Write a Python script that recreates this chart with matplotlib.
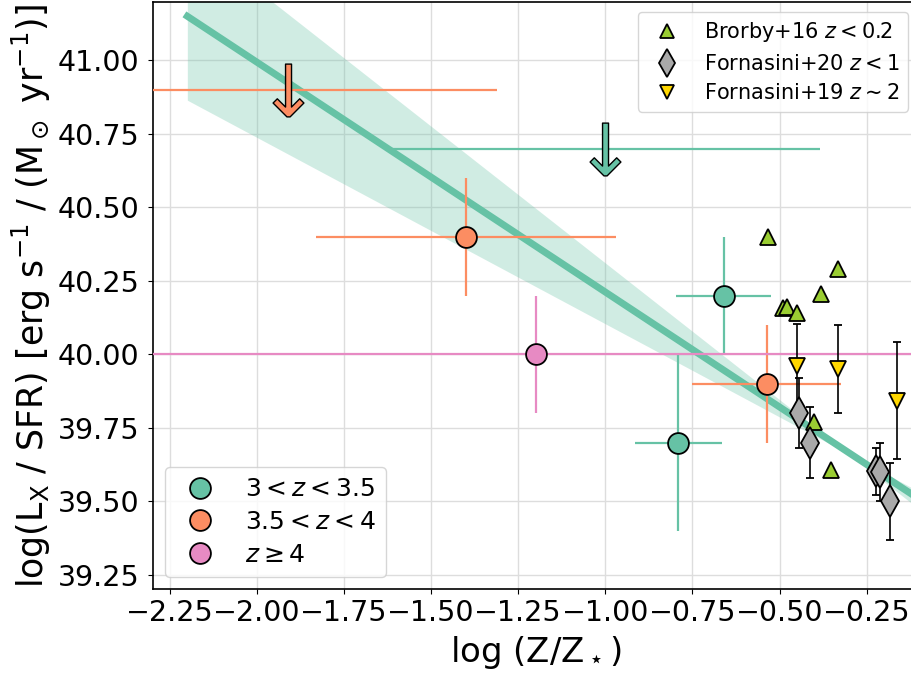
import numpy as np
import matplotlib
matplotlib.use("Agg")
import matplotlib.pyplot as plt

# ---------------- data ----------------
# this work: detections
g_x = [-0.66, -0.79]            # 3 < z < 3.5
g_y = [40.2, 39.7]
g_xerr = [0.136, 0.125]
g_yerr = [0.2, 0.3]

o_x = [-1.40, -0.537]           # 3.5 < z < 4
o_y = [40.4, 39.9]
o_xerr = [0.43, 0.214]
o_yerr = [0.2, 0.2]

p_x = [-1.20]                   # z >= 4
p_y = [40.0]
p_xerr = [1.3]
p_yerr = [0.2]

# upper limits
gul_x = [-1.00]
gul_y = [40.70]
gul_xerr = [0.615]
oul_x = [-1.91]
oul_y = [40.90]
oul_xerr = [0.60]

# literature
b16_x = [-0.532, -0.332, -0.382, -0.491, -0.479, -0.451, -0.400, -0.353]
b16_y = [40.40, 40.292, 40.207, 40.157, 40.162, 40.142, 39.769, 39.606]

f20_x = [-0.443, -0.413, -0.223, -0.212, -0.183]
f20_y = [39.80, 39.70, 39.603, 39.60, 39.50]
f20_yerr = [0.12, 0.12, 0.08, 0.10, 0.13]

f19_x = [-0.451, -0.331, -0.164]
f19_y = [39.96, 39.95, 39.843]
f19_yerr = [0.145, 0.15, 0.2]

# fit and its band (two bounding lines)
fit_x = [-2.2, -0.1]
fit_intercept = 39.43
fit_slope = -0.782
band_a = (39.381, -0.93)    # intercept, slope
band_b = (39.470, -0.634)

# ---------------- style ----------------
c_g = "#66c2a5"
c_o = "#fc8d62"
c_p = "#e78ac3"

fig = plt.figure(figsize=(9.11, 6.74), dpi=100)
ax = fig.add_axes([0.1674, 0.1254, 0.8412, 0.8721])

ax.set_xlim(-2.3, -0.1)
ax.set_ylim(39.2, 41.2)

ax.grid(True, color="#dddddd", lw=1.0, zorder=0)
ax.set_axisbelow(True)

xf = np.linspace(fit_x[0], fit_x[1], 200)
ya = band_a[0] + band_a[1] * xf
yb = band_b[0] + band_b[1] * xf
ax.fill_between(xf, np.minimum(ya, yb), np.maximum(ya, yb), color=c_g,
                alpha=0.3, lw=0, zorder=1)
ax.plot(xf, fit_intercept + fit_slope * xf, color=c_g, lw=5, zorder=2)

ekw = dict(ls="none", elinewidth=1.6, zorder=3)
ax.errorbar(g_x, g_y, xerr=g_xerr, yerr=g_yerr, marker="o", ms=15,
            mfc=c_g, mec="k", mew=1.3, ecolor=c_g, **ekw)
ax.errorbar(o_x, o_y, xerr=o_xerr, yerr=o_yerr, marker="o", ms=15,
            mfc=c_o, mec="k", mew=1.3, ecolor=c_o, **ekw)
ax.errorbar(p_x, p_y, xerr=p_xerr, yerr=p_yerr, marker="o", ms=15,
            mfc=c_p, mec="k", mew=1.3, ecolor=c_p, **ekw)

ax.errorbar(gul_x, gul_y, xerr=gul_xerr, marker=r"$\downarrow$", ms=38,
            mfc=c_g, mec="k", mew=1.0, ecolor=c_g, **ekw)
ax.errorbar(oul_x, oul_y, xerr=oul_xerr, marker=r"$\downarrow$", ms=38,
            mfc=c_o, mec="k", mew=1.0, ecolor=c_o, **ekw)

# literature
ax.errorbar(f19_x, f19_y, yerr=f19_yerr, marker="v", ls="none", ms=11,
            mfc="gold", mec="k", mew=1.3, ecolor="k", elinewidth=1.2,
            capsize=3, zorder=4)
ax.errorbar(f20_x, f20_y, yerr=f20_yerr, marker="d", ls="none", ms=16,
            mfc="darkgray", mec="k", mew=1.3, ecolor="k", elinewidth=1.2,
            capsize=3, zorder=4)
ax.plot(b16_x, b16_y, "^", ms=11, mfc="yellowgreen", mec="k", mew=1.3,
        ls="none", zorder=4)

# legends
h_b = ax.plot([], [], "^", ms=10, mfc="yellowgreen", mec="k", mew=1.3, ls="none")[0]
h_f20 = ax.plot([], [], "d", ms=14, mfc="darkgray", mec="k", mew=1.3, ls="none")[0]
h_f19 = ax.plot([], [], "v", ms=10, mfc="gold", mec="k", mew=1.3, ls="none")[0]
leg1 = ax.legend([h_b, h_f20, h_f19],
                 ["Brorby+16 $z < 0.2$", "Fornasini+20 $z < 1$",
                  "Fornasini+19 $z \\sim 2$"],
                 loc="upper right", fontsize=15, framealpha=0.8,
                 labelspacing=0.45)
ax.add_artist(leg1)

h_g = ax.plot([], [], "o", ms=15, mfc=c_g, mec="k", mew=1.3, ls="none")[0]
h_o = ax.plot([], [], "o", ms=15, mfc=c_o, mec="k", mew=1.3, ls="none")[0]
h_p = ax.plot([], [], "o", ms=15, mfc=c_p, mec="k", mew=1.3, ls="none")[0]
ax.legend([h_g, h_o, h_p], ["$3 < z < 3.5$", "$3.5 < z < 4$", "$z \\geq 4$"],
          loc="lower left", fontsize=18, framealpha=0.8, labelspacing=0.35)

ax.set_xticks([-2.25, -2.0, -1.75, -1.5, -1.25, -1.0, -0.75, -0.5, -0.25])
ax.set_yticks([39.25, 39.5, 39.75, 40.0, 40.25, 40.5, 40.75, 41.0])
ax.tick_params(labelsize=20.5)
ax.tick_params(axis="y", pad=6)
ax.set_xlabel(r"log (Z/Z$_\star$)", fontsize=24.5, labelpad=5)
ax.set_ylabel(r"log(L$_\mathrm{X}$ / SFR) [erg s$^{-1}$ / (M$_\odot$ yr$^{-1}$)]",
              fontsize=25, labelpad=3)
for s in ax.spines.values():
    s.set_linewidth(1.2)

fig.savefig("out.png", dpi=100)
